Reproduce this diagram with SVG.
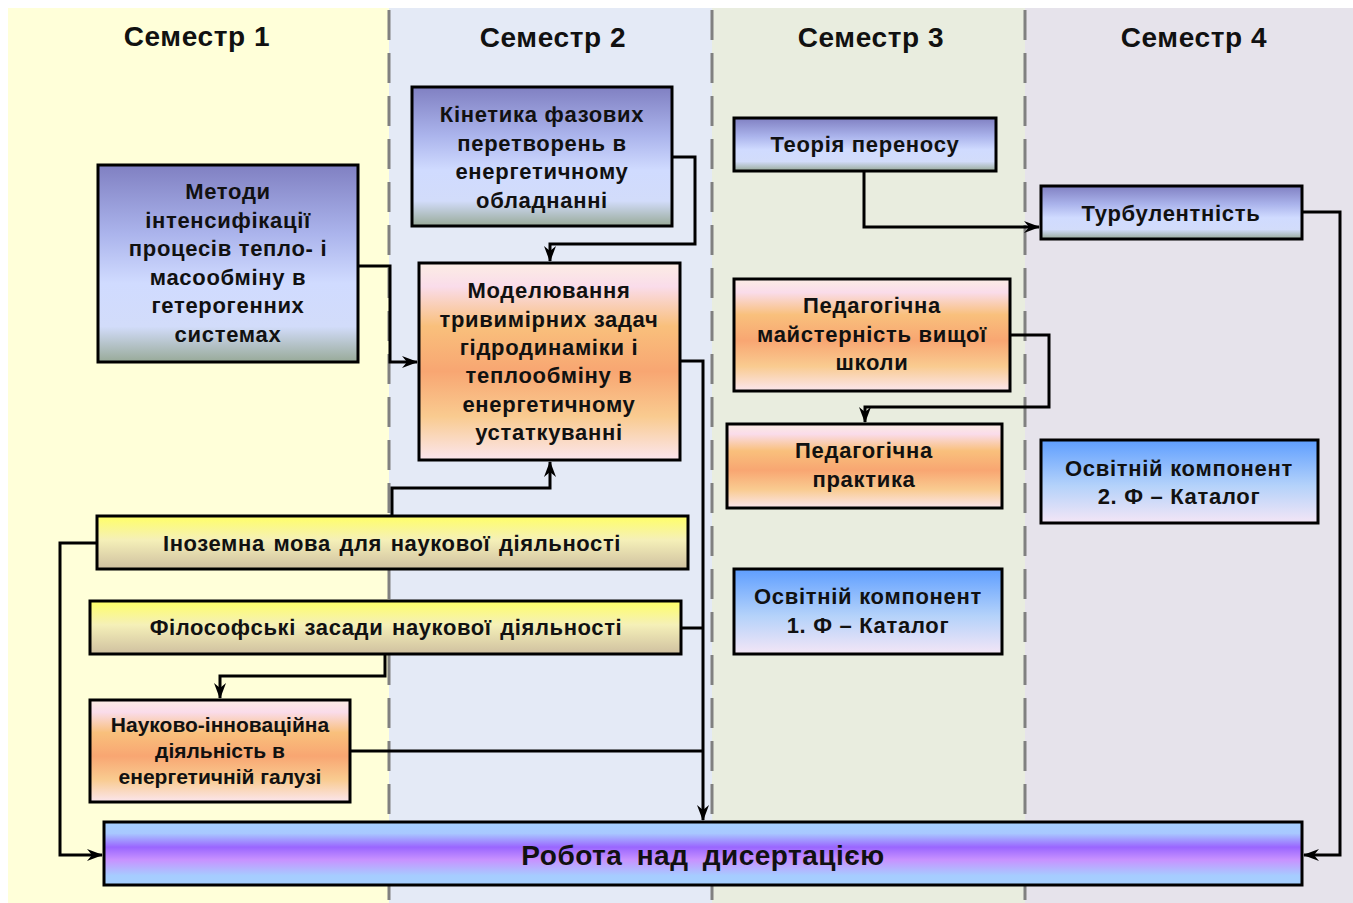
<svg xmlns="http://www.w3.org/2000/svg" width="1353" height="903" viewBox="0 0 1353 903">
<style>
  .box{stroke:#000;stroke-width:3}
  .t{font-family:"Liberation Sans",Arial,sans-serif;font-weight:bold;fill:#111;text-anchor:middle}
  .b{font-size:22px;letter-spacing:0.7px}
  .h{font-size:28px;letter-spacing:0.6px}
  .y{font-size:22px;letter-spacing:0.6px;word-spacing:2px}
  .con{fill:none;stroke:#000;stroke-width:3}
  .sep{stroke:#808080;stroke-width:3;stroke-dasharray:30 13}
</style>
<defs>
  <linearGradient id="gBlue" x1="0" y1="0" x2="0" y2="1">
    <stop offset="0" stop-color="#8080C2"/>
    <stop offset="0.35" stop-color="#ABB4EC"/>
    <stop offset="0.6" stop-color="#D0DBFF"/>
    <stop offset="0.82" stop-color="#D2DCFA"/>
    <stop offset="1" stop-color="#98AA98"/>
  </linearGradient>
  <linearGradient id="gOrange" x1="0" y1="0" x2="0" y2="1">
    <stop offset="0" stop-color="#FCEDE4"/>
    <stop offset="0.12" stop-color="#FADCEA"/>
    <stop offset="0.32" stop-color="#F9C07C"/>
    <stop offset="0.55" stop-color="#F8A672"/>
    <stop offset="0.78" stop-color="#F9CB90"/>
    <stop offset="1" stop-color="#FBE6EE"/>
  </linearGradient>
  <linearGradient id="gYellow" x1="0" y1="0" x2="0" y2="1">
    <stop offset="0" stop-color="#FFFF66"/>
    <stop offset="0.45" stop-color="#F5F0B8"/>
    <stop offset="1" stop-color="#CFC0A0"/>
  </linearGradient>
  <linearGradient id="gSky" x1="0" y1="0" x2="0" y2="1">
    <stop offset="0" stop-color="#5E9EFF"/>
    <stop offset="0.55" stop-color="#B4D2FA"/>
    <stop offset="1" stop-color="#F4E6F6"/>
  </linearGradient>
  <linearGradient id="gPurple" x1="0" y1="0" x2="0" y2="1">
    <stop offset="0" stop-color="#A6D0FF"/>
    <stop offset="0.18" stop-color="#A8C8FF"/>
    <stop offset="0.4" stop-color="#9A66FF"/>
    <stop offset="0.6" stop-color="#C892FF"/>
    <stop offset="0.85" stop-color="#A6CCFF"/>
    <stop offset="1" stop-color="#A6D0FF"/>
  </linearGradient>
  <marker id="arr" viewBox="0 0 16 12" refX="15" refY="6" markerWidth="16" markerHeight="12" markerUnits="userSpaceOnUse" orient="auto">
    <path d="M0,0 L16,6 L0,12 L5,6 z" fill="#000"/>
  </marker>
</defs>

<g id="background">
  <rect x="8" y="8" width="381" height="895" fill="#FFFFD9"/>
  <rect x="389" y="8" width="323" height="895" fill="#E4EAF6"/>
  <rect x="712" y="8" width="313" height="895" fill="#E9EDDF"/>
  <rect x="1025" y="8" width="328" height="895" fill="#E6E3EB"/>
  <line class="sep" x1="389" y1="10" x2="389" y2="903"/>
  <line class="sep" x1="712" y1="10" x2="712" y2="903"/>
  <line class="sep" x1="1025" y1="10" x2="1025" y2="903"/>
  <text class="t h" x="197" y="46">Семестр 1</text>
  <text class="t h" x="553" y="47">Семестр 2</text>
  <text class="t h" x="871" y="47">Семестр 3</text>
  <text class="t h" x="1194" y="47">Семестр 4</text>
</g>

<g id="connectors">
  <path class="con" d="M358,266 H390 V362 H417" marker-end="url(#arr)"/>
  <path class="con" d="M672,157 H695 V244 H550 V261" marker-end="url(#arr)"/>
  <path class="con" d="M680,361 H703 V820" marker-end="url(#arr)"/>
  <path class="con" d="M681,628 H703"/>
  <path class="con" d="M350,751 H703"/>
  <path class="con" d="M392,516 V488 H550 V462" marker-end="url(#arr)"/>
  <path class="con" d="M97,543 H60 V855 H102" marker-end="url(#arr)"/>
  <path class="con" d="M385,654 V676 H220 V698" marker-end="url(#arr)"/>
  <path class="con" d="M864,171 V227 H1039" marker-end="url(#arr)"/>
  <path class="con" d="M1302,212 H1340 V855 H1304" marker-end="url(#arr)"/>
  <path class="con" d="M1010,335 H1049 V407 H865 V422" marker-end="url(#arr)"/>
</g>

<g id="n-metody">
  <rect class="box" x="98" y="165" width="260" height="197" fill="url(#gBlue)"/>
  <text class="t b" x="228" y="199">Методи</text>
  <text class="t b" x="228" y="228">інтенсифікації</text>
  <text class="t b" x="228" y="256">процесів тепло- і</text>
  <text class="t b" x="228" y="285">масообміну в</text>
  <text class="t b" x="228" y="313">гетерогенних</text>
  <text class="t b" x="228" y="342">системах</text>
</g>

<g id="n-kinetyka">
  <rect class="box" x="412" y="87" width="260" height="139" fill="url(#gBlue)"/>
  <text class="t b" x="542" y="122">Кінетика фазових</text>
  <text class="t b" x="542" y="151">перетворень в</text>
  <text class="t b" x="542" y="179">енергетичному</text>
  <text class="t b" x="542" y="208">обладнанні</text>
</g>

<g id="n-modeliuvannia">
  <rect class="box" x="419" y="263" width="261" height="197" fill="url(#gOrange)"/>
  <text class="t b" x="549" y="298">Моделювання</text>
  <text class="t b" x="549" y="327">тривимірних задач</text>
  <text class="t b" x="549" y="355">гідродинаміки і</text>
  <text class="t b" x="549" y="383">теплообміну в</text>
  <text class="t b" x="549" y="412">енергетичному</text>
  <text class="t b" x="549" y="440">устаткуванні</text>
</g>

<g id="n-teoriia">
  <rect class="box" x="734" y="118" width="262" height="53" fill="url(#gBlue)"/>
  <text class="t b" x="865" y="152">Теорія переносу</text>
</g>

<g id="n-turbulentnist">
  <rect class="box" x="1041" y="186" width="261" height="53" fill="url(#gBlue)"/>
  <text class="t b" x="1171" y="221">Турбулентність</text>
</g>

<g id="n-ped-maisternist">
  <rect class="box" x="734" y="279" width="276" height="112" fill="url(#gOrange)"/>
  <text class="t b" x="872" y="313">Педагогічна</text>
  <text class="t b" x="872" y="342">майстерність вищої</text>
  <text class="t b" x="872" y="370">школи</text>
</g>

<g id="n-ped-praktyka">
  <rect class="box" x="727" y="424" width="275" height="84" fill="url(#gOrange)"/>
  <text class="t b" x="864" y="458">Педагогічна</text>
  <text class="t b" x="864" y="487">практика</text>
</g>

<g id="n-osv-2">
  <rect class="box" x="1041" y="440" width="277" height="83" fill="url(#gSky)"/>
  <text class="t b" x="1179" y="476">Освітній компонент</text>
  <text class="t b" x="1179" y="504">2. Ф – Каталог</text>
</g>

<g id="n-osv-1">
  <rect class="box" x="734" y="569" width="268" height="85" fill="url(#gSky)"/>
  <text class="t b" x="868" y="604">Освітній компонент</text>
  <text class="t b" x="868" y="633">1. Ф – Каталог</text>
</g>

<g id="n-inozemna">
  <rect class="box" x="97" y="516" width="591" height="53" fill="url(#gYellow)"/>
  <text class="t y" x="392" y="551">Іноземна мова для наукової діяльності</text>
</g>

<g id="n-filosofski">
  <rect class="box" x="90" y="601" width="591" height="53" fill="url(#gYellow)"/>
  <text class="t y" x="386" y="635">Філософські засади наукової діяльності</text>
</g>

<g id="n-naukovo">
  <rect class="box" x="90" y="700" width="260" height="102" fill="url(#gOrange)"/>
  <text class="t" x="220" y="732" font-size="21">Науково-інноваційна</text>
  <text class="t" x="220" y="758" font-size="21">діяльність в</text>
  <text class="t" x="220" y="784" font-size="21">енергетичній галузі</text>
</g>

<g id="n-robota">
  <rect class="box" x="104" y="822" width="1198" height="63" fill="url(#gPurple)"/>
  <text class="t" x="703" y="865" font-size="28" letter-spacing="0.5" word-spacing="6">Робота над дисертацією</text>
</g>
</svg>
